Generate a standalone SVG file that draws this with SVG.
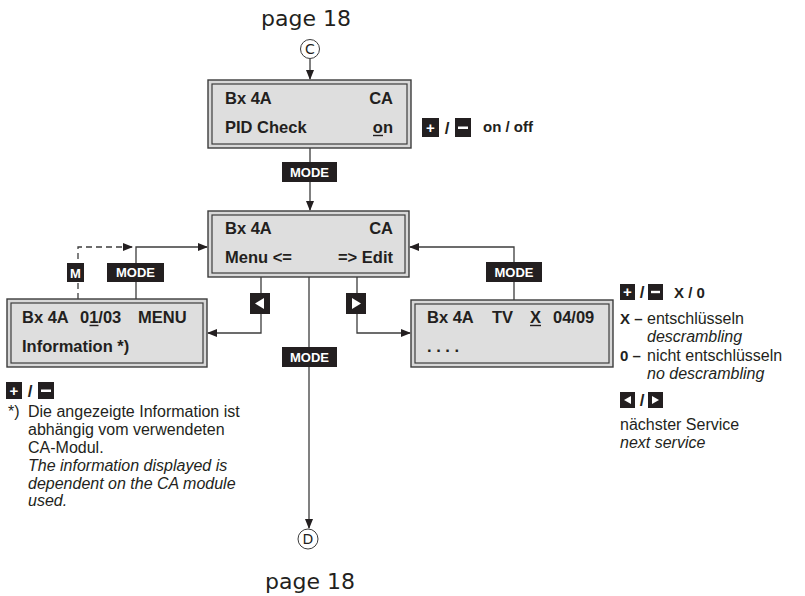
<svg xmlns="http://www.w3.org/2000/svg" width="805" height="596" viewBox="0 0 805 596">
<style>
.bg{fill:#ffffff}
.outer{fill:#d8d8d8;stroke:#3c3c3c;stroke-width:1.4}
.inner{fill:#dedede;stroke:#3c3c3c;stroke-width:1.2}
.lcd{font-family:"Liberation Sans",Arial,sans-serif;font-weight:bold;font-size:16.5px;fill:#231f20}
.key{fill:#231f20}
.keyt{font-family:"Liberation Sans",Arial,sans-serif;font-weight:bold;font-size:13px;fill:#ffffff}
.keys{font-family:"Liberation Sans",Arial,sans-serif;font-weight:bold;font-size:15px;fill:#ffffff}
.slash{font-family:"Liberation Sans",Arial,sans-serif;font-weight:bold;font-size:17px;fill:#231f20}
.page{font-family:"DejaVu Sans",sans-serif;font-size:22px;fill:#231f20}
.circ{fill:#ffffff;stroke:#3c3c3c;stroke-width:1}
.circt{font-family:"DejaVu Sans",sans-serif;font-size:14px;fill:#231f20}
.note{font-family:"Liberation Sans",Arial,sans-serif;font-size:16px;fill:#231f20}
.noteb{font-family:"Liberation Sans",Arial,sans-serif;font-size:15px;font-weight:bold;fill:#231f20}
.it{font-style:italic}
.conn{fill:none;stroke:#3c3c3c;stroke-width:1.3}
.dash{stroke-dasharray:6 4}
.ul{stroke:#231f20;stroke-width:1.4}
</style>
<defs>
<marker id="ah" markerWidth="10" markerHeight="8" refX="9" refY="4" orient="auto" markerUnits="userSpaceOnUse">
<path d="M0,0 L10,4 L0,8 z" fill="#231f20"/>
</marker>
</defs>
<rect class="bg" x="0" y="0" width="805" height="596"/>

<g id="connectors">
<path class="conn" d="M310,59 V79" marker-end="url(#ah)"/>
<path class="conn" d="M310,148 V210" marker-end="url(#ah)"/>
<path class="conn" d="M136,299 V247 H207" marker-end="url(#ah)"/>
<path class="conn dash" d="M78,299 V247 H132" marker-end="url(#ah)"/>
<path class="conn" d="M514,300 V247 H410" marker-end="url(#ah)"/>
<path class="conn" d="M261,277 V333 H208" marker-end="url(#ah)"/>
<path class="conn" d="M357,277 V333 H410" marker-end="url(#ah)"/>
<path class="conn" d="M309,277 V528" marker-end="url(#ah)"/>
</g>

<g id="page-top">
<text class="page" x="306" y="26" text-anchor="middle">page 18</text>
</g>
<g id="conn-C">
<circle class="circ" cx="310" cy="49" r="9.5"/>
<text class="circt" x="310" y="54" text-anchor="middle">C</text>
</g>

<g id="box-pid">
<rect class="outer" x="208" y="80" width="203" height="68"/>
<rect class="inner" x="212" y="84" width="195" height="60"/>
<text class="lcd" x="225" y="104">Bx 4A</text>
<text class="lcd" x="393" y="104" text-anchor="end">CA</text>
<text class="lcd" x="225" y="133">PID Check</text>
<text class="lcd" x="393" y="133" text-anchor="end">on</text>
<line class="ul" x1="373" y1="135.5" x2="383" y2="135.5"/>
</g>

<g id="keys-pid">
<rect class="key" x="422" y="118" width="17" height="19"/>
<text class="keys" x="430.5" y="133" text-anchor="middle">+</text>
<text class="slash" x="447" y="134" text-anchor="middle">/</text>
<rect class="key" x="455" y="118" width="16" height="19"/>
<rect x="458" y="126.5" width="10" height="2.5" fill="#ffffff"/>
<text class="noteb" x="483" y="132">on / off</text>
</g>

<g id="key-mode-1">
<rect class="key" x="282" y="162" width="55" height="20"/>
<text class="keyt" x="309.5" y="176.8" text-anchor="middle">MODE</text>
</g>

<g id="box-menu">
<rect class="outer" x="208" y="211" width="201" height="66"/>
<rect class="inner" x="212" y="215" width="193" height="58"/>
<text class="lcd" x="225" y="234">Bx 4A</text>
<text class="lcd" x="393" y="234" text-anchor="end">CA</text>
<text class="lcd" x="225" y="263">Menu &lt;=</text>
<text class="lcd" x="393" y="263" text-anchor="end">=&gt; Edit</text>
</g>

<g id="key-m">
<rect class="key" x="67" y="263" width="17" height="19"/>
<text class="keyt" x="75.5" y="277.5" text-anchor="middle" font-size="14">M</text>
</g>
<g id="key-mode-left">
<rect class="key" x="107" y="263" width="57" height="19"/>
<text class="keyt" x="135.5" y="277.3" text-anchor="middle">MODE</text>
</g>
<g id="key-mode-right">
<rect class="key" x="486" y="262" width="56" height="20"/>
<text class="keyt" x="514" y="276.8" text-anchor="middle">MODE</text>
</g>
<g id="key-left">
<rect class="key" x="250" y="293" width="20" height="21"/>
<path d="M255,303.5 L264,298 L264,309 z" fill="#ffffff"/>
</g>
<g id="key-right">
<rect class="key" x="346" y="293" width="20" height="21"/>
<path d="M361,303.5 L352,298 L352,309 z" fill="#ffffff"/>
</g>
<g id="key-mode-center">
<rect class="key" x="282" y="347" width="55" height="20"/>
<text class="keyt" x="309.5" y="361.8" text-anchor="middle">MODE</text>
</g>

<g id="box-info">
<rect class="outer" x="7" y="299" width="200" height="68"/>
<rect class="inner" x="11" y="303" width="192" height="60"/>
<text class="lcd" x="22" y="323">Bx 4A</text>
<text class="lcd" x="80" y="323">01/03</text>
<line class="ul" x1="89.5" y1="325.5" x2="98.5" y2="325.5"/>
<text class="lcd" x="138" y="323">MENU</text>
<text class="lcd" x="22" y="352">Information *)</text>
</g>

<g id="box-service">
<rect class="outer" x="411" y="300" width="202" height="67"/>
<rect class="inner" x="415" y="304" width="194" height="59"/>
<text class="lcd" x="427" y="323">Bx 4A</text>
<text class="lcd" x="492" y="323">TV</text>
<text class="lcd" x="530" y="323">X</text>
<line class="ul" x1="530" y1="325.5" x2="541" y2="325.5"/>
<text class="lcd" x="553" y="323">04/09</text>
<text class="lcd" x="427" y="352">. . . .</text>
</g>

<g id="keys-info">
<rect class="key" x="6" y="382" width="16" height="17"/>
<text class="keys" x="14" y="395.5" text-anchor="middle">+</text>
<text class="slash" x="30" y="397" text-anchor="middle">/</text>
<rect class="key" x="38" y="382" width="16" height="17"/>
<rect x="41" y="389.5" width="10" height="2.5" fill="#ffffff"/>
</g>

<g id="footnote">
<text class="note" x="8" y="417">*)</text>
<text class="note" x="28" y="417">Die angezeigte Information ist</text>
<text class="note" x="28" y="435">abhängig vom verwendeten</text>
<text class="note" x="28" y="453">CA-Modul.</text>
<text class="note it" x="28" y="471">The information displayed is</text>
<text class="note it" x="28" y="489">dependent on the CA module</text>
<text class="note it" x="28" y="506">used.</text>
</g>

<g id="legend-right">
<rect class="key" x="620" y="284" width="15" height="16"/>
<text class="keys" x="627.5" y="297" text-anchor="middle">+</text>
<text class="slash" x="642" y="298" text-anchor="middle">/</text>
<rect class="key" x="648" y="284" width="15" height="16"/>
<rect x="651" y="290.8" width="9" height="2.4" fill="#ffffff"/>
<text class="noteb" x="674" y="298">X / 0</text>
<text class="noteb" x="620" y="324">X –</text>
<text class="note" x="647" y="324">entschlüsseln</text>
<text class="note it" x="647" y="342">descrambling</text>
<text class="noteb" x="620" y="361">0 –</text>
<text class="note" x="647" y="361">nicht entschlüsseln</text>
<text class="note it" x="647" y="379">no descrambling</text>
<rect class="key" x="620" y="392" width="15" height="16"/>
<path d="M624,400 L631,396 L631,404 z" fill="#ffffff"/>
<text class="slash" x="642" y="406" text-anchor="middle">/</text>
<rect class="key" x="648" y="392" width="15" height="16"/>
<path d="M659,400 L652,396 L652,404 z" fill="#ffffff"/>
<text class="note" x="620" y="430">nächster Service</text>
<text class="note it" x="620" y="448">next service</text>
</g>

<g id="conn-D">
<circle class="circ" cx="308" cy="539" r="10"/>
<text class="circt" x="308" y="544" text-anchor="middle">D</text>
</g>
<g id="page-bottom">
<text class="page" x="310" y="589" text-anchor="middle">page 18</text>
</g>
</svg>
